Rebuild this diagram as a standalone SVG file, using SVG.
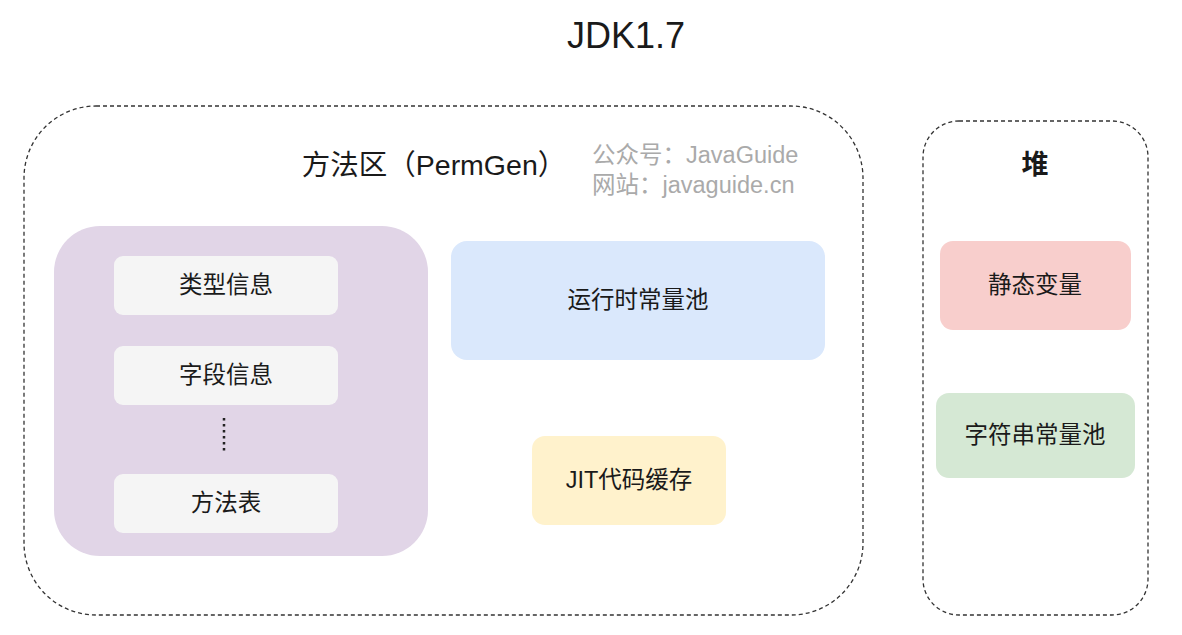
<svg xmlns="http://www.w3.org/2000/svg" width="1182" height="635" viewBox="0 0 1182 635">
<style>
text{font-family:"Liberation Sans","Noto Sans CJK SC",sans-serif;text-anchor:middle;dominant-baseline:central;fill:#1a1a1a}
.dash{fill:none;stroke:#333;stroke-width:1.3;stroke-dasharray:4 3}
.lbl{font-size:23.5px}
.gray{fill:#f5f5f5}
.wm{font-size:23.5px;fill:#aaa;text-anchor:start}
</style>
<rect width="1182" height="635" fill="#fff"/>
<text x="626" y="35" font-size="36">JDK1.7</text>
<g id="permgen">
<rect class="dash" x="24" y="106" width="839" height="509" rx="72"/>
<text x="434" y="165" font-size="28.5">方法区（PermGen）</text>
<text class="wm" x="592" y="155">公众号：JavaGuide</text>
<text class="wm" x="592" y="185">网站：javaguide.cn</text>
</g>
<g id="classinfo">
<rect x="54" y="226" width="374" height="330" rx="46" fill="#e1d5e7"/>
</g>
<g id="typeinfo"><rect class="gray" x="114" y="256" width="224" height="59" rx="9"/><text class="lbl" x="226" y="285">类型信息</text></g>
<g id="fieldinfo"><rect class="gray" x="114" y="346" width="224" height="59" rx="9"/><text class="lbl" x="226" y="375">字段信息</text></g>
<g id="methodtable"><rect class="gray" x="114" y="474" width="224" height="59" rx="9"/><text class="lbl" x="226" y="503">方法表</text></g>
<g id="connectors">
<line x1="224" y1="418" x2="224" y2="454" stroke="#222" stroke-width="2.5" stroke-dasharray="2.5 3.5"/>
</g>
<g id="rtcp"><rect x="451" y="241" width="374" height="119" rx="16" fill="#dae8fc"/><text class="lbl" x="638" y="300">运行时常量池</text></g>
<g id="jit"><rect x="532" y="436" width="194" height="89" rx="13" fill="#fff2cc"/><text class="lbl" x="629" y="480">JIT代码缓存</text></g>
<g id="heap">
<rect class="dash" x="923" y="121" width="225" height="494" rx="36"/>
<text x="1035" y="165" font-size="27" font-weight="bold">堆</text>
</g>
<g id="static"><rect x="940" y="241" width="191" height="89" rx="13" fill="#f8cecc"/><text class="lbl" x="1035" y="285">静态变量</text></g>
<g id="strpool"><rect x="936" y="393" width="199" height="85" rx="13" fill="#d5e8d4"/><text class="lbl" x="1035" y="435">字符串常量池</text></g>
</svg>
